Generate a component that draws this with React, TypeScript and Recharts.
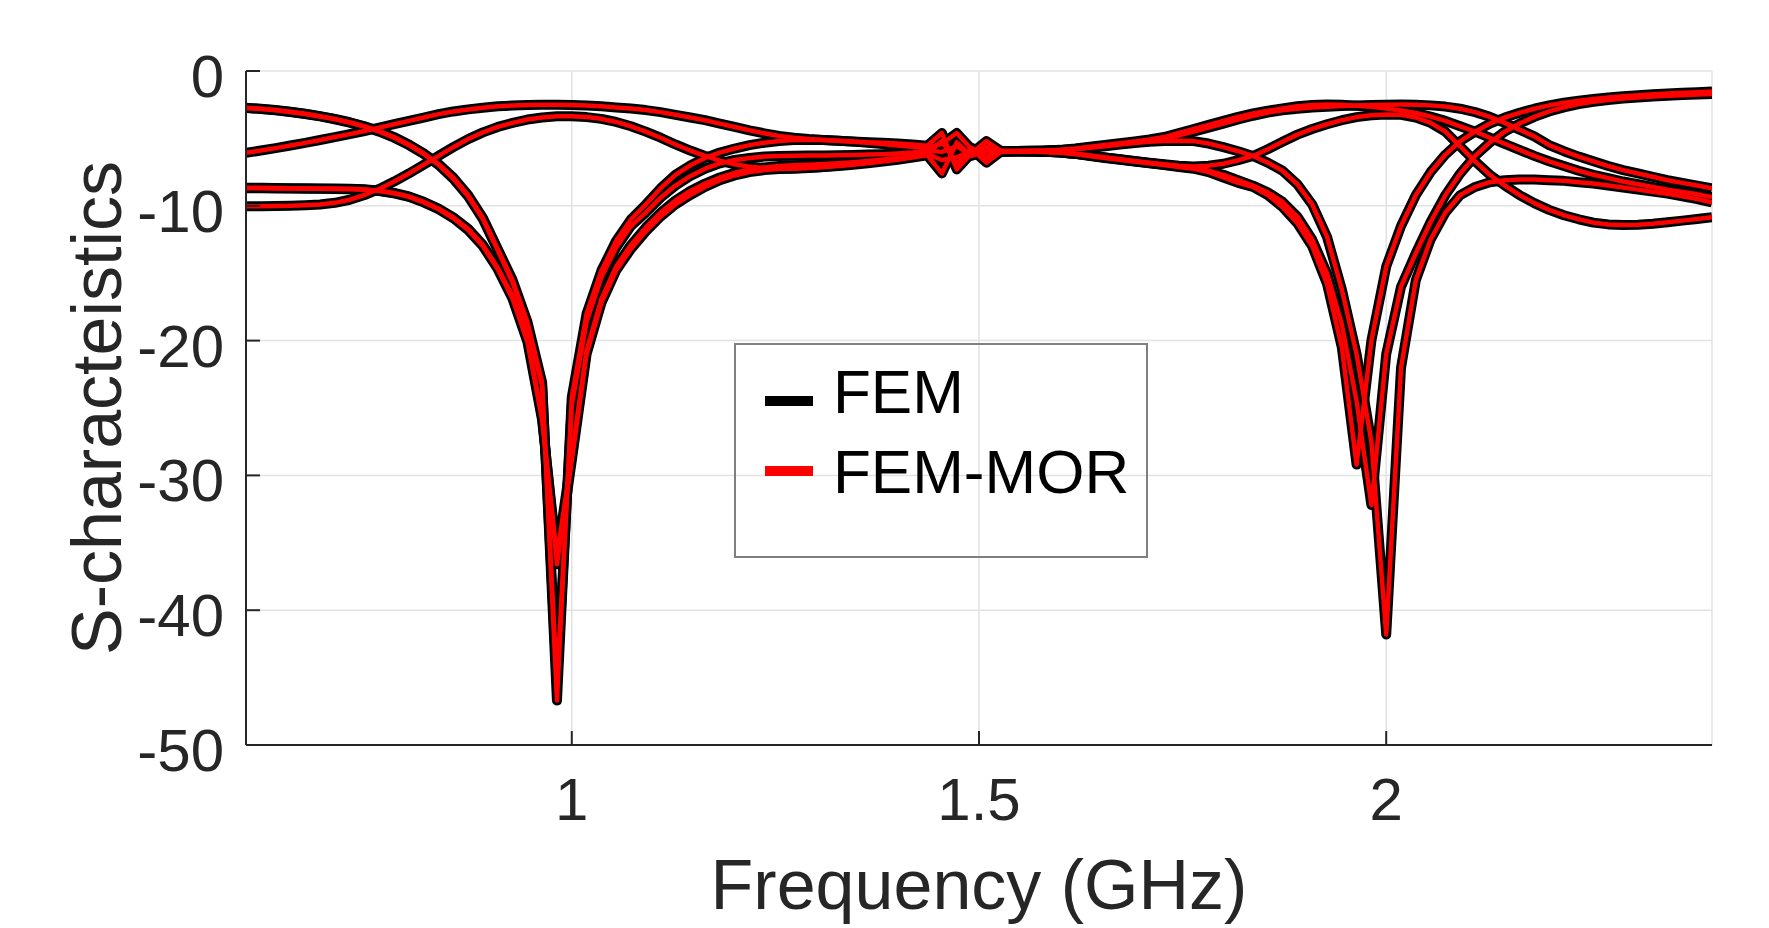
import React from 'react';
import { LineChart, Line, XAxis, YAxis, CartesianGrid, Legend, Label } from 'recharts';

const FONT = "'Liberation Sans', Arial, Helvetica, sans-serif";

// Frequency samples (GHz)
const freqGHz = [
  0.6, 0.6182, 0.6364, 0.6545, 0.6727, 0.6909, 0.7091, 0.7273, 0.7455, 0.7636,
  0.7818, 0.8, 0.8182, 0.8364, 0.8545, 0.8727, 0.8909, 0.9091, 0.9273, 0.9455,
  0.9636, 0.9818, 1.0, 1.0182, 1.0364, 1.0545, 1.0727, 1.0909, 1.1091, 1.1273,
  1.1455, 1.1636, 1.1818, 1.2, 1.2182, 1.2364, 1.2545, 1.2727, 1.2909, 1.3091,
  1.3273, 1.3455, 1.3636, 1.3818, 1.4, 1.4182, 1.4364, 1.4545, 1.4727, 1.4909,
  1.5091, 1.5273, 1.5455, 1.5636, 1.5818, 1.6, 1.6182, 1.6364, 1.6545, 1.6727,
  1.6909, 1.7091, 1.7273, 1.7455, 1.7636, 1.7818, 1.8, 1.8182, 1.8364, 1.8545,
  1.8727, 1.8909, 1.9091, 1.9273, 1.9455, 1.9636, 1.9818, 2.0, 2.0182, 2.0364,
  2.0545, 2.0727, 2.0909, 2.1091, 2.1273, 2.1455, 2.1636, 2.1818, 2.2, 2.2182,
  2.2364, 2.2545, 2.2727, 2.2909, 2.3091, 2.3273, 2.3455, 2.3636, 2.3818, 2.4,
];

// FEM S-parameter curves (dB)
const femS1 = [
  -6.07, -5.9, -5.72, -5.53, -5.33, -5.12, -4.9, -4.68, -4.45, -4.2,
  -3.95, -3.7, -3.45, -3.2, -3.0, -2.85, -2.72, -2.62, -2.56, -2.52,
  -2.5, -2.5, -2.52, -2.56, -2.62, -2.7, -2.78, -2.9, -3.05, -3.25,
  -3.45, -3.65, -3.9, -4.15, -4.4, -4.62, -4.82, -4.95, -5.05, -5.12,
  -5.18, -5.23, -5.28, -5.33, -5.38, -5.45, -5.55, -4.6, -7.3, -6.1,
  -5.2, -5.95, -5.93, -5.92, -5.9, -5.85, -5.75, -5.62, -5.48, -5.35,
  -5.22, -5.08, -4.9, -4.6, -4.3, -4.0, -3.7, -3.4, -3.15, -2.95,
  -2.78, -2.62, -2.52, -2.48, -2.5, -2.57, -2.66, -2.78, -2.93, -3.12,
  -3.38, -3.7, -4.1, -4.5, -4.95, -5.4, -5.85, -6.3, -6.7, -7.05,
  -7.4, -7.7, -7.95, -8.2, -8.4, -8.6, -8.8, -8.98, -9.15, -9.35,
];
const femS2 = [
  -10.04, -10.03, -10.02, -10.0, -9.96, -9.9, -9.78, -9.55, -9.2, -8.75,
  -8.2, -7.6, -6.95, -6.3, -5.65, -5.05, -4.55, -4.15, -3.85, -3.6,
  -3.45, -3.36, -3.35, -3.42, -3.55, -3.78, -4.1, -4.5, -4.95, -5.45,
  -5.9, -6.3, -6.65, -6.92, -7.1, -7.2, -7.25, -7.25, -7.2, -7.12,
  -7.02, -6.9, -6.78, -6.65, -6.5, -6.35, -6.15, -6.6, -6.4, -5.9,
  -6.3, -6.0, -5.98, -5.98, -6.0, -6.05, -6.15, -6.28, -6.42, -6.55,
  -6.68, -6.8, -6.92, -7.02, -7.08, -7.02, -6.88, -6.62, -6.3, -5.8,
  -5.25, -4.72, -4.3, -3.95, -3.65, -3.42, -3.28, -3.22, -3.25, -3.45,
  -3.85, -4.5, -5.6, -6.7, -7.7, -8.5, -9.2, -9.8, -10.3, -10.7,
  -11.0, -11.25, -11.38, -11.43, -11.4, -11.33, -11.22, -11.1, -10.98, -10.85,
];
const femS3 = [
  -2.73, -2.8, -2.9, -3.02, -3.17, -3.35, -3.55, -3.8, -4.1, -4.45,
  -4.9, -5.45, -6.1, -6.9, -7.9, -9.2, -10.9, -13.2, -15.5, -18.6,
  -23.1, -46.7, -24.2, -18.0, -14.8, -12.6, -11.0, -9.9, -8.7, -7.7,
  -7.0, -6.45, -6.05, -5.75, -5.5, -5.32, -5.2, -5.12, -5.1, -5.12,
  -5.17, -5.24, -5.32, -5.42, -5.52, -5.62, -5.7, -5.4, -4.6, -5.8,
  -6.8, -5.98, -5.94, -5.92, -5.9, -5.86, -5.78, -5.66, -5.54, -5.42,
  -5.3, -5.18, -5.02, -4.78, -4.5, -4.2, -3.9, -3.6, -3.32, -3.08,
  -2.92, -2.8, -2.71, -2.65, -2.6, -2.56, -2.53, -2.5, -2.49, -2.5,
  -2.55, -2.64, -2.8, -3.05, -3.4, -3.85, -4.35, -4.85, -5.5, -5.95,
  -6.35, -6.7, -7.05, -7.35, -7.6, -7.85, -8.1, -8.3, -8.5, -8.7,
];
const femS4 = [
  -2.75, -2.82, -2.92, -3.04, -3.19, -3.37, -3.58, -3.83, -4.13, -4.5,
  -4.95, -5.5, -6.16, -6.97, -8.0, -9.3, -11.0, -13.3, -15.7, -18.9,
  -23.4, -45.5, -24.8, -18.6, -15.3, -13.1, -11.5, -10.5, -9.4, -8.5,
  -7.8, -7.25, -6.85, -6.6, -6.45, -6.35, -6.3, -6.28, -6.27, -6.26,
  -6.25, -6.23, -6.2, -6.17, -6.12, -6.05, -5.9, -6.0, -5.6, -6.2,
  -5.6, -5.92, -5.95, -5.95, -5.92, -5.87, -5.8, -5.7, -5.58, -5.46,
  -5.34, -5.25, -5.2, -5.18, -5.2, -5.38, -5.65, -5.95, -6.3, -6.8,
  -7.4, -8.4, -9.9, -12.3, -16.2, -21.0, -27.5, -41.8, -22.0, -15.5,
  -12.5, -10.5, -9.2, -8.6, -8.25, -8.1, -8.05, -8.05, -8.1, -8.15,
  -8.25, -8.35, -8.5, -8.65, -8.8, -8.95, -9.1, -9.3, -9.5, -9.75,
];
const femS5 = [
  -8.67, -8.67, -8.68, -8.69, -8.7, -8.71, -8.72, -8.74, -8.78, -8.88,
  -9.05, -9.3, -9.7, -10.2, -10.85, -11.7, -12.9, -14.6, -16.7, -19.8,
  -25.7, -36.6, -28.9, -21.0, -17.2, -14.8, -13.2, -11.9, -10.8, -9.9,
  -9.2, -8.6, -8.1, -7.75, -7.5, -7.35, -7.27, -7.22, -7.18, -7.12,
  -7.05, -6.95, -6.85, -6.72, -6.58, -6.42, -6.25, -7.6, -5.3, -6.3,
  -5.9, -5.96, -5.97, -5.98, -6.0, -6.05, -6.15, -6.3, -6.45, -6.58,
  -6.72, -6.85, -6.98, -7.12, -7.25, -7.5, -7.9, -8.3, -8.6, -9.2,
  -10.1, -11.3, -13.0, -15.8, -20.5, -29.2, -20.0, -14.5, -11.5, -9.2,
  -7.5, -6.2, -5.2, -4.5, -3.9, -3.45, -3.1, -2.8, -2.55, -2.35,
  -2.2, -2.07, -1.96, -1.87, -1.8, -1.73, -1.67, -1.62, -1.57, -1.52,
];
const femS6 = [
  -8.7, -8.7, -8.71, -8.72, -8.73, -8.74, -8.75, -8.77, -8.81, -8.91,
  -9.08, -9.34, -9.75, -10.26, -10.92, -11.8, -13.0, -14.7, -16.9, -20.1,
  -25.9, -36.0, -28.5, -20.7, -16.9, -14.5, -12.9, -11.6, -10.5, -9.6,
  -8.9, -8.35, -7.9, -7.55, -7.3, -7.15, -7.05, -7.0, -6.95, -6.9,
  -6.84, -6.76, -6.67, -6.57, -6.46, -6.33, -6.1, -5.2, -6.9, -5.7,
  -6.4, -5.94, -5.96, -5.97, -5.99, -6.04, -6.14, -6.27, -6.42, -6.55,
  -6.7, -6.83, -6.95, -7.08, -7.2, -7.4, -7.7, -8.1, -8.5, -9.0,
  -9.7, -10.8, -12.5, -15.0, -18.8, -24.5, -32.2, -21.0, -16.0, -13.5,
  -11.2, -9.2, -7.6, -6.3, -5.3, -4.5, -3.9, -3.4, -3.0, -2.7,
  -2.45, -2.28, -2.15, -2.05, -1.97, -1.9, -1.84, -1.79, -1.74, -1.7,
];

// FEM-MOR curves coincide with FEM in the figure
const morS1 = femS1;
const morS2 = femS2;
const morS3 = femS3;
const morS4 = femS4;
const morS5 = femS5;
const morS6 = femS6;

const femSeries = [femS1, femS2, femS3, femS4, femS5, femS6];
const morSeries = [morS1, morS2, morS3, morS4, morS5, morS6];

const xTicks = [1, 1.5, 2];
const yTicks = [-50, -40, -30, -20, -10, 0];

const rows = freqGHz.map((f, i) => {
  const row: Record<string, number> = { f };
  femSeries.forEach((s, j) => { row['fem' + (j + 1)] = s[i]; });
  morSeries.forEach((s, j) => { row['mor' + (j + 1)] = s[i]; });
  return row;
});

const AXIS = '#262626';

const YTick = (props: any) => {
  const { x, y, payload } = props;
  return (
    <g>
      <line x1={x + 22} x2={x + 36} y1={y} y2={y} stroke={AXIS} strokeWidth={2} />
      <text x={x} y={y} dy={26} textAnchor="end" fontSize={60} fill={AXIS} fontFamily={FONT}>
        {payload.value}
      </text>
    </g>
  );
};

const XTick = (props: any) => {
  const { x, y, payload } = props;
  return (
    <g>
      <line x1={x} x2={x} y1={y} y2={y - 14} stroke={AXIS} strokeWidth={2} />
      <text x={x} y={y} dy={75} textAnchor="middle" fontSize={60} fill={AXIS} fontFamily={FONT}>
        {payload.value}
      </text>
    </g>
  );
};

const YLabel = (props: any) => {
  const vb = props.viewBox || { x: 0, y: 71, width: 246, height: 674 };
  const cx = vb.x + 121;
  const cy = vb.y + vb.height / 2;
  return (
    <text x={cx} y={cy} transform={`rotate(-90 ${cx} ${cy})`} textAnchor="middle" fontSize={70} fill={AXIS} fontFamily={FONT}>
      S-characteistics
    </text>
  );
};

const XLabel = (props: any) => {
  const vb = props.viewBox || { x: 246, y: 745, width: 1466, height: 183 };
  const cx = vb.x + vb.width / 2;
  const cy = vb.y + 164;
  return (
    <text x={cx} y={cy} textAnchor="middle" fontSize={70} fill={AXIS} fontFamily={FONT}>
      Frequency (GHz)
    </text>
  );
};

const LegendBox = (props: any) => {
  const seen = new Set<string>();
  const items = (props.payload || []).filter((p: any) => {
    if (seen.has(p.value)) return false;
    seen.add(p.value);
    return true;
  });
  return (
    <svg width={414} height={215} style={{ display: 'block' }}>
      <rect x={1} y={1} width={412} height={213} fill="none" stroke="#7f7f7f" strokeWidth={2} />
      {items.map((it: any, i: number) => (
        <g key={it.value}>
          <line x1={31} x2={79} y1={58 + i * 70} y2={58 + i * 70} stroke={it.color} strokeWidth={10} />
          <text x={99} y={70 + i * 80} fontSize={62} fill="#000" fontFamily={FONT}>
            {it.value}
          </text>
        </g>
      ))}
    </svg>
  );
};

export default function App() {
  return (
    <div style={{ position: 'absolute', left: 0, top: 0, width: 1769, height: 928, background: '#fff' }}>
      <LineChart width={1769} height={928} data={rows} margin={{ top: 71, right: 57, bottom: 0, left: 0 }}>
        <CartesianGrid stroke="#e2e2e2" strokeWidth={1.5} />
        <XAxis
          type="number"
          dataKey="f"
          domain={[0.6, 2.4]}
          ticks={xTicks}
          allowDataOverflow
          height={183}
          tickSize={0}
          tickMargin={0}
          tickLine={false}
          axisLine={{ stroke: AXIS, strokeWidth: 2 }}
          tick={<XTick />}
          label={<Label content={<XLabel />} />}
        />
        <YAxis
          type="number"
          domain={[-50, 0]}
          ticks={yTicks}
          allowDataOverflow
          width={246}
          tickSize={0}
          tickMargin={22}
          tickLine={false}
          axisLine={{ stroke: AXIS, strokeWidth: 2 }}
          tick={<YTick />}
          label={<Label content={<YLabel />} />}
        />
        <Legend
          layout="vertical"
          align="center"
          verticalAlign="middle"
          content={<LegendBox />}
          wrapperStyle={{ left: 734, top: 343, width: 414, height: 215 }}
        />
        {femSeries.map((_, j) => (
          <Line
            key={'fem' + j}
            dataKey={'fem' + (j + 1)}
            name="FEM"
            type="linear"
            stroke="#000000"
            strokeWidth={10}
            strokeLinejoin="round"
            dot={false}
            activeDot={false}
            isAnimationActive={false}
          />
        ))}
        {morSeries.map((_, j) => (
          <Line
            key={'mor' + j}
            dataKey={'mor' + (j + 1)}
            name="FEM-MOR"
            type="linear"
            stroke="#ff0000"
            strokeWidth={4.5}
            strokeLinejoin="round"
            dot={false}
            activeDot={false}
            isAnimationActive={false}
          />
        ))}
      </LineChart>
    </div>
  );
}
